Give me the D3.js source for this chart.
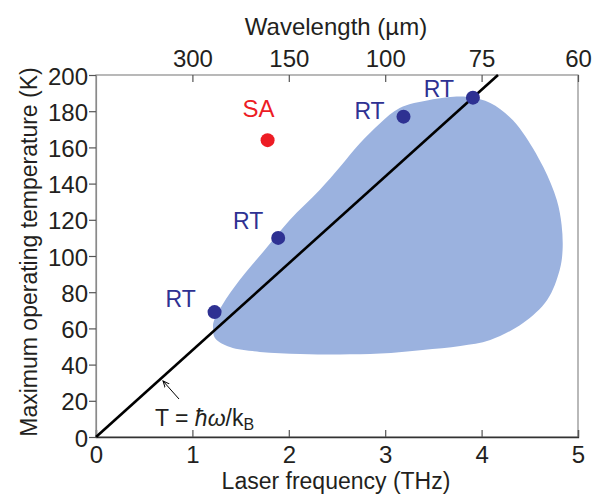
<!DOCTYPE html>
<html>
<head>
<meta charset="utf-8">
<script src="https://cdn.jsdelivr.net/npm/d3@7"></script>
<style>
  html, body { margin: 0; padding: 0; background: #fff; }
  svg { display: block; font-family: "Liberation Sans", Arial, Helvetica, sans-serif; }
</style>
</head>
<body>
<svg id="chart" width="592" height="500"></svg>
<script>
// Frequency ticks (THz) and the matching wavelengths (µm) on the top axis
const freqTicks = [0, 1, 2, 3, 4, 5];
const tempTicks = [0, 20, 40, 60, 80, 100, 120, 140, 160, 180, 200];
const waveTickFreqs = [1, 2, 3, 4, 5];
const waveTickLabels = ["300", "150", "100", "75", "60"];

// Room-temperature operation points: frequency (THz), max temperature (K)
const rtFreq = [1.23, 1.89, 3.19, 3.91];
const rtTemp = [69, 110, 177, 187.5];

// Single-point entry labelled SA
const saFreq = [1.78];
const saTemp = [164];

// Thermal-energy line T = ħω/kB
const lineFreq = [0, 4.17];
const lineTemp = [0, 200];

// Outline of the shaded operating region
const regionFreq = [1.214, 1.234, 1.39, 1.70, 2.12, 2.53, 2.95, 3.39, 3.78, 4.09, 4.43, 4.68, 4.81, 4.84, 4.83, 4.78, 4.64, 4.43, 4.29, 4.09, 3.88, 3.74, 3.46, 3.15, 2.95, 2.74, 2.53, 2.32, 2.01, 1.75, 1.49, 1.31, 1.22];
const regionTemp = [60.8, 54.7, 49.7, 47.0, 45.9, 45.6, 46.1, 48.1, 50.3, 53.6, 63.0, 75.7, 92.3, 103.3, 117.1, 130.9, 149.2, 168.0, 176.8, 184.5, 187.8, 188.1, 186.2, 181.8, 173.5, 162.4, 149.2, 136.5, 119.9, 103.3, 86.7, 72.9, 63.5];

const svg = d3.select("#chart");
const L = 96, R = 578, T = 75, B = 437;

const x = d3.scaleLinear().domain([0, 5]).range([L, R]);
const y = d3.scaleLinear().domain([0, 200]).range([B, T]);

const blue = "#2e3192";
const red = "#ed1c24";
const fill = "#9bb2df";
const frame = "#8a8a8a";
const tickCol = "#555";
const textCol = "#231f20";
const font = "Liberation Sans, Arial, sans-serif";

// shaded region
svg.append("path")
  .datum(regionFreq.map((f, i) => [f, regionTemp[i]]))
  .attr("fill", fill)
  .attr("d", d3.line().x(d => x(d[0])).y(d => y(d[1])).curve(d3.curveCatmullRomClosed.alpha(0.5)));

// frame
svg.append("rect")
  .attr("x", L).attr("y", T).attr("width", R - L).attr("height", B - T)
  .attr("fill", "none").attr("stroke", frame).attr("stroke-width", 1.2);

// bottom axis: ticks point inward
const xAxis = svg.append("g").attr("transform", `translate(0,${B})`)
  .call(d3.axisBottom(x).tickValues(freqTicks).tickSize(-7).tickPadding(9).tickFormat(d3.format("d")));
xAxis.select(".domain").attr("stroke", "#333").attr("stroke-width", 1.3);
xAxis.selectAll(".tick line").attr("stroke", tickCol).attr("stroke-width", 1.2);
xAxis.selectAll(".tick text").attr("font-size", 24).attr("fill", textCol).attr("font-family", font);

// top axis: wavelength labels, ticks point inward
const topAxis = svg.append("g").attr("transform", `translate(0,${T})`)
  .call(d3.axisTop(x).tickValues(waveTickFreqs).tickSize(-7).tickPadding(8)
    .tickFormat((d, i) => waveTickLabels[i]));
topAxis.select(".domain").remove();
topAxis.selectAll(".tick line").attr("stroke", tickCol).attr("stroke-width", 1.2);
topAxis.selectAll(".tick text").attr("font-size", 24).attr("fill", textCol).attr("font-family", font);

// left axis: ticks point outward
const yAxis = svg.append("g").attr("transform", `translate(${L},0)`)
  .call(d3.axisLeft(y).tickValues(tempTicks).tickSize(7).tickPadding(1).tickFormat(d3.format("d")));
yAxis.select(".domain").attr("stroke", frame).attr("stroke-width", 1.2);
yAxis.selectAll(".tick line").attr("stroke", tickCol).attr("stroke-width", 1.2);
yAxis.selectAll(".tick text").attr("font-size", 24).attr("fill", textCol).attr("font-family", font)
  .attr("dy", "0.38em");

// axis titles
svg.append("text").attr("x", 336).attr("y", 35).attr("text-anchor", "middle")
  .attr("font-size", 24).attr("fill", textCol).text("Wavelength (µm)");
svg.append("text").attr("x", 336).attr("y", 489).attr("text-anchor", "middle")
  .attr("font-size", 23).attr("fill", textCol).text("Laser frequency (THz)");
svg.append("text").attr("transform", `translate(37,252) rotate(-90)`)
  .attr("text-anchor", "middle").attr("font-size", 23).attr("fill", textCol)
  .text("Maximum operating temperature (K)");

// T = ħω/kB line
svg.append("path")
  .datum(lineFreq.map((f, i) => [f, lineTemp[i]]))
  .attr("fill", "none").attr("stroke", "#000").attr("stroke-width", 2.6)
  .attr("d", d3.line().x(d => x(d[0])).y(d => y(d[1])));

// annotation arrow and formula
svg.append("defs").append("marker")
  .attr("id", "arrowhead").attr("viewBox", "0 0 10 10").attr("refX", 9).attr("refY", 5)
  .attr("markerWidth", 7).attr("markerHeight", 7).attr("orient", "auto-start-reverse")
  .append("path").attr("d", "M0,1 L9,5 L0,9").attr("fill", "none").attr("stroke", "#000").attr("stroke-width", 1.4);
svg.append("line")
  .attr("x1", 179).attr("y1", 399).attr("x2", 163).attr("y2", 381)
  .attr("stroke", "#000").attr("stroke-width", 1).attr("marker-end", "url(#arrowhead)");

const formula = svg.append("text").attr("x", 155).attr("y", 426)
  .attr("font-size", 23).attr("fill", textCol);
formula.append("tspan").text("T = ");
formula.append("tspan").attr("font-style", "italic").text("ħω");
formula.append("tspan").text("/k");
formula.append("tspan").attr("font-size", 16).attr("dy", 4).text("B");

// label placement relative to each point (dx, dy in px)
const rtLabelOffset = [[-34, -5], [-30, -9], [-34, 2], [-34, -1]];

// RT points and labels
const rtPts = rtFreq.map((f, i) => [f, rtTemp[i]]);
svg.append("g").selectAll("circle")
  .data(rtPts)
  .join("circle")
  .attr("cx", d => x(d[0])).attr("cy", d => y(d[1])).attr("r", 7).attr("fill", blue);
svg.append("g").selectAll("text")
  .data(rtPts)
  .join("text")
  .attr("x", (d, i) => x(d[0]) + rtLabelOffset[i][0])
  .attr("y", (d, i) => y(d[1]) + rtLabelOffset[i][1])
  .attr("text-anchor", "middle").attr("font-size", 23).attr("fill", blue).text("RT");

// SA point and label
const saPts = saFreq.map((f, i) => [f, saTemp[i]]);
svg.append("g").selectAll("circle")
  .data(saPts)
  .join("circle")
  .attr("cx", d => x(d[0])).attr("cy", d => y(d[1])).attr("r", 7).attr("fill", red);
svg.append("g").selectAll("text")
  .data(saPts)
  .join("text")
  .attr("x", d => x(d[0]) - 9).attr("y", d => y(d[1]) - 23)
  .attr("text-anchor", "middle").attr("font-size", 24).attr("fill", red).text("SA");
</script>
</body>
</html>
